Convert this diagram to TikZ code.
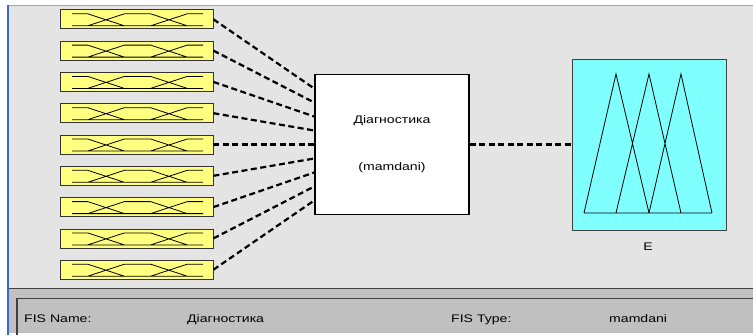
\documentclass[tikz,border=0pt]{standalone}
\usepackage{fontspec}
\setmainfont{Liberation Sans}[FakeStretch=1.28]
\usetikzlibrary{calc,positioning}

\definecolor{panelGrey}{HTML}{E4E4E4}
\definecolor{statusGrey}{HTML}{C0C0C0}
\definecolor{mfYellow}{HTML}{FFFF80}
\definecolor{mfCyan}{HTML}{80FFFF}
\definecolor{frameBlue}{HTML}{3A6AC8}
\definecolor{frameLine}{HTML}{A8A49C}

\tikzset{
  inputBox/.style={draw=black!80, fill=mfYellow, line width=0.8pt,
    minimum width=153pt, minimum height=19pt, inner sep=0pt},
  systemBox/.style={draw=black, fill=white, line width=1.6pt,
    minimum width=154pt, minimum height=140pt, inner sep=0pt},
  outputBox/.style={draw=black!75, fill=mfCyan, line width=0.9pt,
    minimum width=154pt, minimum height=171pt, inner sep=0pt},
  mfLine/.style={black, line width=0.8pt},
  link/.style={black, line width=2.2pt, dash pattern=on 6pt off 3.5pt},
  statusText/.style={anchor=base west, inner sep=0pt}
}

\def\boxGap{31.3}
\def\pinGap{14}

\begin{document}
\begin{tikzpicture}[x=1pt, y=-1pt, font=\fontsize{11}{13}\selectfont]
      \useasboundingbox (0,0) rectangle (753,335);

      % Window frame
      \fill[panelGrey] (9,6) rectangle (753,288);
      \fill[statusGrey] (9,288) rectangle (753,333);
      \draw[frameLine, line width=1.2pt] (8,5.5) -- (753,5.5);
      \draw[frameBlue, line width=2pt] (8,5) -- (8,335);
      \draw[black!75, line width=1.5pt] (9,288.5) -- (753,288.5);
      \draw[black!75, line width=1.5pt]
        (17,335) -- (17,298.5) -- (753,298.5)
      ;

      % System block
      \node[systemBox] (fis) at (392,144.5) {};
      \node (fisName) at (392,121) {Діагностика};
      \node (fisType) at (392,168) {(mamdani)};

      % Inputs
      \foreach \i in {1,...,9} {
        \pgfmathsetmacro{\yc}{144.5+(\i-5)*\boxGap}
        \pgfmathsetmacro{\yt}{\yc-5.5}
        \pgfmathsetmacro{\yb}{\yc+6.5}
        \node[inputBox] (in\i) at (136.5,\yc) {};
        \draw[mfLine]
          (72,\yt) -- (87.7,\yt) -- (124.4,\yb) -- (203,\yb)
          (72,\yb) -- (87.7,\yb) -- (124.4,\yt) -- (150.6,\yt)
            -- (187.3,\yb) -- (203,\yb)
          (72,\yb) -- (150.6,\yb) -- (187.3,\yt) -- (203,\yt)
        ;
        \coordinate (fisIn\i) at ($(fis.west)+(0,{(\i-5)*\pinGap})$);
        \draw[link] (in\i.east) -- (fisIn\i);
      }

      % Output
      \node[outputBox] (out) at (649,144.5) {};
      \draw[mfLine]
        (584,213) -- (616,74) -- (649,213)
        (616,213) -- (649,74) -- (681,213)
        (649,213) -- (681,74) -- (712,213)
        (584,213) -- (712,213)
      ;
      \draw[link] (fis.east) -- (out.west);
      \node (outName) at (648,247) {E};

      % Labels
      \node[statusText] (nameKey) at (24,322) {FIS Name:};
      \node[statusText] (nameValue) at (187,322) {Діагностика};
      \node[statusText] (typeKey) at (451,322) {FIS Type:};
      \node[statusText] (typeValue) at (609,322) {mamdani};
    \end{tikzpicture}
\end{document}
